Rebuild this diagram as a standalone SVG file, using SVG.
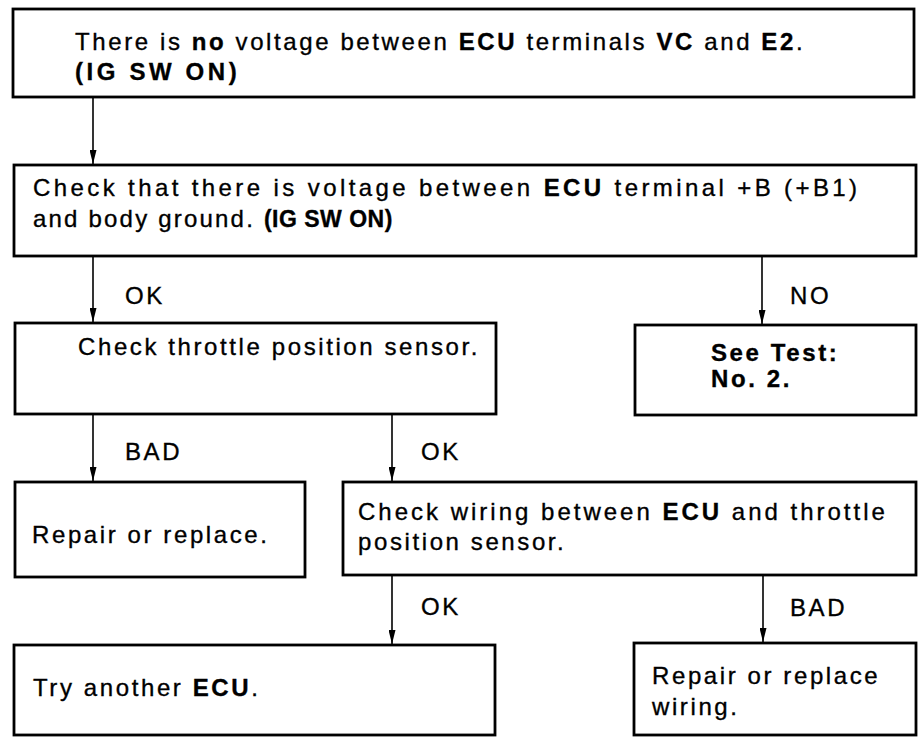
<svg xmlns="http://www.w3.org/2000/svg" width="918" height="737" viewBox="0 0 918 737">
<style>
.box{fill:#fff;stroke:#000;stroke-width:2.8}
.t{font-family:"Liberation Sans",Arial,sans-serif;font-size:24px;letter-spacing:2.6px;fill:#000;stroke:#000;stroke-width:0.35}
.b{font-weight:bold}
.c{stroke:#000;stroke-width:1.6;fill:none;marker-end:url(#ah)}
</style>
<defs>
<marker id="ah" viewBox="0 0 14 7" refX="14" refY="3.5" markerWidth="14" markerHeight="7" markerUnits="userSpaceOnUse" orient="auto">
<path d="M0,0 L14,3.5 L0,7 Z" fill="#000"/>
</marker>
</defs>
<rect width="918" height="737" fill="#fff"/>
<g id="connectors">
<line class="c" x1="93" y1="97" x2="93" y2="164"/>
<line class="c" x1="93" y1="256" x2="93" y2="322"/>
<line class="c" x1="762" y1="256" x2="762" y2="324"/>
<line class="c" x1="93" y1="414" x2="93" y2="481"/>
<line class="c" x1="392" y1="414" x2="392" y2="481"/>
<line class="c" x1="392" y1="575" x2="392" y2="644"/>
<line class="c" x1="763" y1="575" x2="763" y2="642"/>
<text class="t" x="125" y="304">OK</text>
<text class="t" x="790" y="304">NO</text>
<text class="t" x="125" y="460">BAD</text>
<text class="t" x="421" y="460">OK</text>
<text class="t" x="421" y="615">OK</text>
<text class="t" x="790" y="616">BAD</text>
</g>
<g id="n1">
<rect class="box" x="13" y="9" width="901" height="88"/>
<text class="t" x="75" y="50">There is <tspan class="b">no</tspan> voltage between <tspan class="b">ECU</tspan> terminals <tspan class="b">VC</tspan> and <tspan class="b">E2</tspan>.</text>
<text class="t b" x="75" y="80" style="letter-spacing:3.6px">(IG SW ON)</text>
</g>
<g id="n2">
<rect class="box" x="14" y="165" width="902" height="91"/>
<text class="t" x="33" y="196" style="letter-spacing:3.4px">Check that there is voltage between <tspan class="b">ECU</tspan> terminal +B (+B1)</text>
<text class="t" x="33" y="227" style="letter-spacing:2.2px">and body ground. <tspan class="b" style="font-size:23px;letter-spacing:0.5px">(IG SW ON)</tspan></text>
</g>
<g id="n3">
<rect class="box" x="15" y="323" width="481" height="91"/>
<text class="t" x="78" y="355">Check throttle position sensor.</text>
</g>
<g id="n4">
<rect class="box" x="635" y="325" width="281" height="90"/>
<text class="t b" x="711" y="361">See Test:</text>
<text class="t b" x="711" y="387">No. 2.</text>
</g>
<g id="n5">
<rect class="box" x="15" y="482" width="290" height="95"/>
<text class="t" x="32" y="543">Repair or replace.</text>
</g>
<g id="n6">
<rect class="box" x="343" y="482" width="573" height="93"/>
<text class="t" x="358" y="520" style="letter-spacing:3px">Check wiring between <tspan class="b">ECU</tspan> and throttle</text>
<text class="t" x="358" y="550">position sensor.</text>
</g>
<g id="n7">
<rect class="box" x="14" y="645" width="481" height="90"/>
<text class="t" x="33" y="696">Try another <tspan class="b">ECU</tspan>.</text>
</g>
<g id="n8">
<rect class="box" x="634" y="643" width="282" height="92"/>
<text class="t" x="652" y="684">Repair or replace</text>
<text class="t" x="652" y="715">wiring.</text>
</g>
</svg>
